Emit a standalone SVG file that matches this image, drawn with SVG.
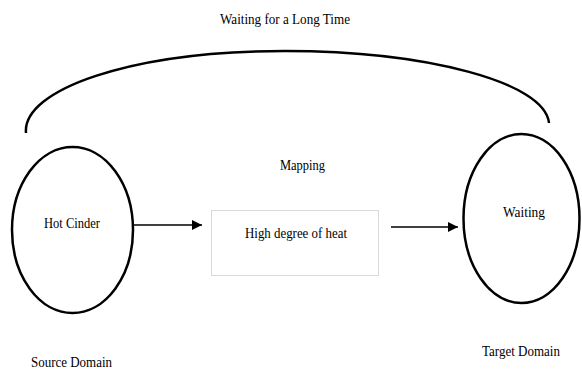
<svg xmlns="http://www.w3.org/2000/svg" width="582" height="371" viewBox="0 0 582 371">
<style>
  text { font-family: 'Liberation Serif', 'DejaVu Serif', Tinos, 'Times New Roman', serif; font-size: 15px; fill: #000; }
  .domain { fill: none; stroke: #000; stroke-width: 2.5; }
  .box { fill: #fff; stroke: #d9d9d9; stroke-width: 1; }
  .conn { fill: none; stroke: #000; stroke-width: 1.5; }
  .arc { fill: none; stroke: #000; stroke-width: 2.5; }
</style>
<defs>
  <marker id="arrow" viewBox="0 0 10 10" refX="10" refY="5" markerWidth="10" markerHeight="10" markerUnits="userSpaceOnUse" orient="auto">
    <path d="M0,0 L10,5 L0,10 z" fill="#000"/>
  </marker>
</defs>
<rect width="582" height="371" fill="#fff"/>
<g id="connectors">
  <path class="arc" d="M26,133 C22,90 130,51 285,51 C425,51 545,82 549,123"/>
  <line class="conn" x1="133" y1="225" x2="202" y2="225" marker-end="url(#arrow)"/>
  <line class="conn" x1="391" y1="227" x2="458" y2="227" marker-end="url(#arrow)"/>
</g>
<g id="title">
  <text x="220" y="24" textLength="130" lengthAdjust="spacingAndGlyphs" font-family="Liberation Serif, DejaVu Serif, serif">Waiting for a Long Time</text>
</g>
<g id="mapping-label">
  <text x="280" y="170" textLength="45" lengthAdjust="spacingAndGlyphs" font-family="Liberation Serif, DejaVu Serif, serif">Mapping</text>
</g>
<g id="source">
  <ellipse class="domain" cx="72.5" cy="230" rx="60.5" ry="83"/>
  <text x="44" y="228" textLength="56" lengthAdjust="spacingAndGlyphs" font-family="Liberation Serif, DejaVu Serif, serif">Hot Cinder</text>
  <text x="31" y="367" textLength="81" lengthAdjust="spacingAndGlyphs" font-family="Liberation Serif, DejaVu Serif, serif">Source Domain</text>
</g>
<g id="mapping">
  <rect class="box" x="211.5" y="210.5" width="167" height="65"/>
  <text x="245" y="238" textLength="102" lengthAdjust="spacingAndGlyphs" font-family="Liberation Serif, DejaVu Serif, serif">High degree of heat</text>
</g>
<g id="target">
  <ellipse class="domain" cx="521.5" cy="218.5" rx="58" ry="84.5"/>
  <text x="503" y="217" textLength="42" lengthAdjust="spacingAndGlyphs" font-family="Liberation Serif, DejaVu Serif, serif">Waiting</text>
  <text x="482" y="356" textLength="78" lengthAdjust="spacingAndGlyphs" font-family="Liberation Serif, DejaVu Serif, serif">Target Domain</text>
</g>
</svg>
